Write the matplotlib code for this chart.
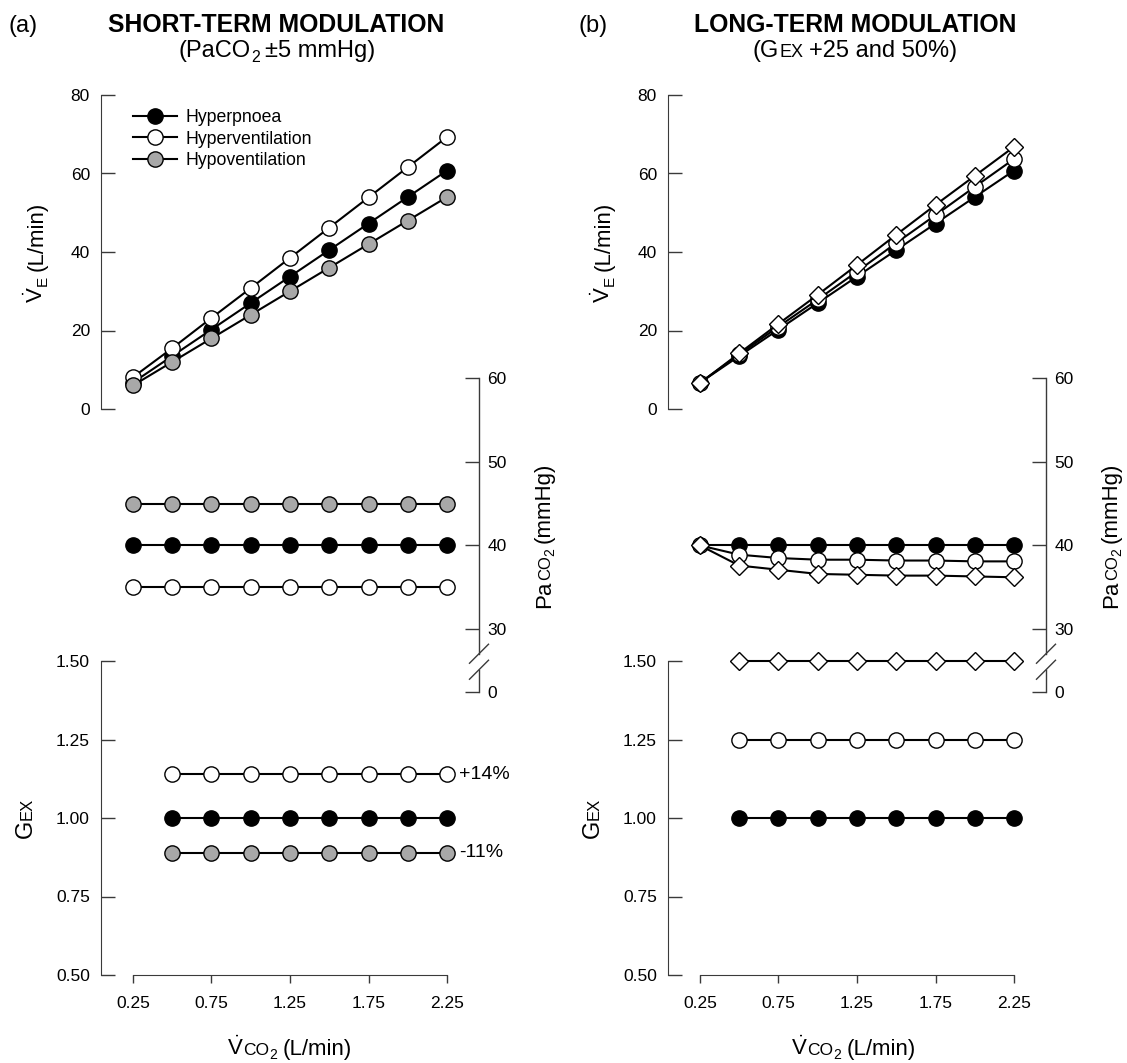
import numpy as np
import matplotlib.pyplot as plt
from matplotlib.lines import Line2D

plt.rcParams['font.family'] = ['Liberation Sans', 'DejaVu Sans']
plt.rcParams['mathtext.fontset'] = 'custom'
plt.rcParams['mathtext.rm'] = 'Liberation Sans'
plt.rcParams['mathtext.it'] = 'Liberation Sans:italic'
plt.rcParams['mathtext.bf'] = 'Liberation Sans:bold'

# ---- data ----
vco2 = [0.25, 0.50, 0.75, 1.00, 1.25, 1.50, 1.75, 2.00, 2.25]
vco2_gex = [0.50, 0.75, 1.00, 1.25, 1.50, 1.75, 2.00, 2.25]

# (a) short-term
ve_hyperpnoea = [6.75, 13.5, 20.25, 27.0, 33.75, 40.5, 47.25, 54.0, 60.75]
ve_hyperventilation = [8.1, 15.5, 23.2, 30.8, 38.5, 46.2, 53.9, 61.6, 69.3]
ve_hypoventilation = [6.0, 12.0, 18.0, 24.0, 30.0, 36.0, 42.0, 48.0, 54.0]
pa_hyperpnoea = [40, 40, 40, 40, 40, 40, 40, 40, 40]
pa_hyperventilation = [35, 35, 35, 35, 35, 35, 35, 35, 35]
pa_hypoventilation = [45, 45, 45, 45, 45, 45, 45, 45, 45]
gex_hyperpnoea = [1.00, 1.00, 1.00, 1.00, 1.00, 1.00, 1.00, 1.00]
gex_hyperventilation = [1.14, 1.14, 1.14, 1.14, 1.14, 1.14, 1.14, 1.14]
gex_hypoventilation = [0.89, 0.89, 0.89, 0.89, 0.89, 0.89, 0.89, 0.89]

# (b) long-term
ve_base = [6.7, 13.5, 20.25, 27.0, 33.75, 40.5, 47.25, 54.0, 60.75]
ve_gex25 = [6.7, 13.9, 21.0, 27.9, 35.0, 42.3, 49.4, 56.6, 63.7]
ve_gex50 = [6.6, 14.2, 21.7, 29.1, 36.7, 44.4, 52.0, 59.4, 66.8]
pa_base = [40, 40, 40, 40, 40, 40, 40, 40, 40]
pa_gex25 = [40.0, 38.9, 38.5, 38.3, 38.3, 38.2, 38.2, 38.1, 38.1]
pa_gex50 = [40.0, 37.6, 37.1, 36.6, 36.5, 36.4, 36.4, 36.3, 36.2]
gex_base = [1.00, 1.00, 1.00, 1.00, 1.00, 1.00, 1.00, 1.00]
gex_25 = [1.25, 1.25, 1.25, 1.25, 1.25, 1.25, 1.25, 1.25]
gex_50 = [1.50, 1.50, 1.50, 1.50, 1.50, 1.50, 1.50, 1.50]

labels = ['Hyperpnoea', 'Hyperventilation', 'Hypoventilation']
x_ticks = [0.25, 0.75, 1.25, 1.75, 2.25]

W, H = 1127, 1063
fig = plt.figure(figsize=(W / 100, H / 100), dpi=100)

AX_COL = '#3a3a3a'
GREY = '#a8a8a8'
BRK = 22.5   # bottom of the broken PaCO2 axis, labelled 0
XLIM = (0.0462, 2.4538)


def px_axes(left, top, right, bottom):
    ax = fig.add_axes([left / W, 1 - bottom / H, (right - left) / W, (bottom - top) / H])
    ax.patch.set_visible(False)
    for s in ax.spines.values():
        s.set_visible(False)
        s.set_color(AX_COL)
    ax.set_xlim(*XLIM)
    ax.tick_params(colors=AX_COL, labelcolor='black', labelsize=12.5, width=1)
    return ax


def series(ax, x, y, marker, face, label=None):
    ms = 9.5 if marker == 'D' else 11
    return ax.plot(x, y, color='black', lw=1.5, marker=marker, ms=ms, mfc=face,
                   mec='black', mew=1.0, clip_on=False, label=label)[0]


def rich_text(x, y, pieces, rotation=0):
    # x, y = centre of baseline in pixels from top-left
    r = fig.canvas.get_renderer()
    widths = []
    for s, size, shift, gap in pieces:
        t = fig.text(0, 0, s, fontsize=size)
        widths.append(t.get_window_extent(r).width)
        t.remove()
    total = sum(widths) + sum(p[3] for p in pieces)
    X, Y = x, H - y
    if rotation == 90:
        along, up = (0, 1), (-1, 0)
    else:
        along, up = (1, 0), (0, 1)
    pos = -total / 2
    for (s, size, shift, gap), w in zip(pieces, widths):
        pos += gap
        px = X + along[0] * pos + up[0] * shift
        py = Y + along[1] * pos + up[1] * shift
        fig.text(px / W, py / H, s, fontsize=size, rotation=rotation,
                 rotation_mode='anchor', ha='left', va='baseline')
        pos += w


def panel(dx, ve_sets, pa_sets, gex_sets, legend=False):
    # VE axis
    ve = px_axes(101 + dx, 95, 479 + dx, 409)
    ve.spines['left'].set_visible(True)
    ve.set_ylim(0, 80)
    ve.set_yticks([0, 20, 40, 60, 80])
    ve.set_xticks([])
    ve.tick_params(axis='y', direction='in', length=10, pad=8)
    lines = [series(ve, vco2, y, m, f, lab) for y, m, f, lab in ve_sets]
    if legend:
        ve.legend(handles=lines, loc='upper left', frameon=False, fontsize=12.7,
                  bbox_to_anchor=((133 - 101) / 378, (409 - 109) / 314),
                  borderaxespad=0, borderpad=0, handlelength=2.5,
                  handletextpad=0.45, labelspacing=0.26)

    # PaCO2 axis (broken, right side)
    pa = px_axes(101 + dx, 378, 479 + dx, 692)
    pa.set_ylim(BRK, 60)
    pa.yaxis.tick_right()
    pa.set_yticks([BRK, 30, 40, 50, 60])
    pa.set_yticklabels(['0', '30', '40', '50', '60'])
    pa.set_xticks([])
    pa.tick_params(axis='y', direction='in', length=10, pad=6)
    frac = lambda v: (v - BRK) / (60 - BRK)
    g_top, g_bot = 27.07, 25.16
    kw = dict(transform=pa.transAxes, color=AX_COL, lw=1.0, clip_on=False)
    pa.add_line(Line2D([1, 1], [1, frac(g_top)], **kw))
    pa.add_line(Line2D([1, 1], [frac(g_bot), 0], **kw))
    sx, sy = 9.5 / 378, 9.5 / 314
    for g in (g_top, g_bot):
        pa.add_line(Line2D([1 - sx, 1 + sx], [frac(g) - sy, frac(g) + sy], **kw))
    for y, m, f in pa_sets:
        series(pa, vco2, y, m, f)

    # GEX axis
    gx = px_axes(101 + dx, 661, 479 + dx, 975)
    gx.spines['left'].set_visible(True)
    gx.spines['bottom'].set_visible(True)
    gx.spines['bottom'].set_bounds(0.25, 2.25)
    gx.set_ylim(0.5, 1.5)
    gx.set_yticks([0.50, 0.75, 1.00, 1.25, 1.50])
    gx.set_yticklabels(['%.2f' % v for v in [0.50, 0.75, 1.00, 1.25, 1.50]])
    gx.set_xticks(x_ticks)
    gx.set_xticklabels(['%.2f' % v for v in x_ticks])
    gx.tick_params(axis='y', direction='in', length=10, pad=8)
    gx.tick_params(axis='x', direction='out', length=6, pad=9)
    for y, m, f in gex_sets:
        series(gx, vco2_gex, y, m, f)
    return ve, pa, gx


# ---- panel (a) ----
ve_a, pa_a, gx_a = panel(
    0,
    [(ve_hyperpnoea, 'o', 'black', labels[0]),
     (ve_hyperventilation, 'o', 'white', labels[1]),
     (ve_hypoventilation, 'o', GREY, labels[2])],
    [(pa_hyperpnoea, 'o', 'black'),
     (pa_hyperventilation, 'o', 'white'),
     (pa_hypoventilation, 'o', GREY)],
    [(gex_hyperpnoea, 'o', 'black'),
     (gex_hyperventilation, 'o', 'white'),
     (gex_hypoventilation, 'o', GREY)],
    legend=True)
gx_a.annotate('+14%', xy=(vco2_gex[-1], gex_hyperventilation[-1]), xytext=(12, 0),
              textcoords='offset pixels', ha='left', va='center', fontsize=14)
gx_a.annotate('-11%', xy=(vco2_gex[-1], gex_hypoventilation[-1]), xytext=(12, 0),
              textcoords='offset pixels', ha='left', va='center', fontsize=14)

# ---- panel (b) ----
panel(
    567,
    [(ve_base, 'o', 'black', None),
     (ve_gex25, 'o', 'white', None),
     (ve_gex50, 'D', 'white', None)],
    [(pa_base, 'o', 'black'),
     (pa_gex25, 'o', 'white'),
     (pa_gex50, 'D', 'white')],
    [(gex_base, 'o', 'black'),
     (gex_25, 'o', 'white'),
     (gex_50, 'D', 'white')])

# ---- titles ----
fig.text(8 / W, 1 - 32 / H, '(a)', ha='left', va='baseline', fontsize=17)
fig.text(276 / W, 1 - 32 / H, 'SHORT-TERM MODULATION', ha='center', va='baseline',
         fontsize=17.8, fontweight='bold')
rich_text(277, 57, [('(PaCO', 17, 0, 0), ('2', 11.5, -5, 0), ('±5 mmHg)', 17, 0, 5)])

fig.text(578 / W, 1 - 32 / H, '(b)', ha='left', va='baseline', fontsize=17)
fig.text(855 / W, 1 - 32 / H, 'LONG-TERM MODULATION', ha='center', va='baseline',
         fontsize=17.8, fontweight='bold')
rich_text(855, 57, [('(G', 17, 0, 0), ('EX', 13, 0, 0), ('+25 and 50%)', 17, 0, 6)])

# ---- axis labels ----
for dx in (0, 567):
    rich_text(43 + dx, 252, [(r'$\dot{\mathrm{V}}$', 16, 0, 0), ('E', 11, -4, 0),
                             ('(L/min)', 16, 0, 5)], rotation=90)
    rich_text(550 + dx, 535, [('Pa', 16, 0, 0), ('CO', 12, 0, 0), ('2', 10, -4, 0),
                              ('(mmHg)', 16, 0, 5)], rotation=90)
    rich_text(32 + dx, 818, [('G', 17, 0, 0), ('EX', 12, 0, 0)], rotation=90)
for cx in (289, 853):
    rich_text(cx, 1055, [(r'$\dot{\mathrm{V}}$', 16, 0, 0), ('CO', 12.5, 0, 0),
                         ('2', 10, -4, 0), ('(L/min)', 16, 0, 5)])

fig.savefig('out.png', dpi=100)
